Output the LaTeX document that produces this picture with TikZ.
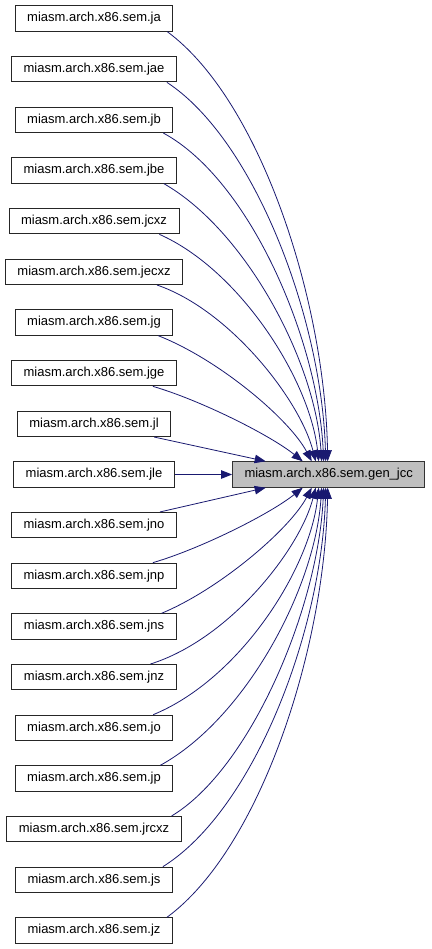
\documentclass[tikz,border=0pt]{standalone}
\usepackage{fontspec}
\setmainfont{Liberation Sans}
\usetikzlibrary{arrows.meta}
\definecolor{edgeblue}{HTML}{191970}
\definecolor{tgtfill}{HTML}{BFBFBF}
\tikzset{
  src/.style={draw=black!85, line width=0.9pt, fill=white, minimum height=25.5pt, inner ysep=0pt, inner xsep=12pt, font=\fontsize{13}{15}\selectfont},
  tgt/.style={src, fill=tgtfill, draw=black!80},
  edge/.style={draw=edgeblue, line width=0.8pt, -{Triangle[length=11pt,width=8.5pt]}},
}
\begin{document}
\begin{tikzpicture}[x=1pt,y=-1pt]
\useasboundingbox (0,0) rectangle (431,949);
\node[tgt] (gen) at (328.7,474.5) {miasm.arch.x86.sem.gen\_jcc};
\foreach \nm [count=\i from 0] in {ja,jae,jb,jbe,jcxz,jecxz,jg,jge,jl,jle,jno,jnp,jns,jnz,jo,jp,jrcxz,js,jz}{
  \node[src] (\nm) at (94,{474.5+50.67*(\i-9)}) {miasm.arch.x86.sem.\nm};
}
% upper edges
\draw[edge] ([xshift=-6pt]ja.south east) .. controls (260,100) and (325,300) .. ([xshift=-1pt]gen.north);
\draw[edge] ([xshift=-10pt]jae.south east) .. controls (255,140) and (322,320) .. ([xshift=-3pt]gen.north);
\draw[edge] ([xshift=-10pt]jb.south east) .. controls (250,180) and (318,340) .. ([xshift=-5pt]gen.north);
\draw[edge] ([xshift=-13pt]jbe.south east) .. controls (245,230) and (315,360) .. ([xshift=-7pt]gen.north);
\draw[edge] ([xshift=-20pt]jcxz.south east) .. controls (240,270) and (310,380) .. ([xshift=-10pt]gen.north);
\draw[edge] ([xshift=-26pt]jecxz.south east) .. controls (230,310) and (300,400) .. ([xshift=-13pt]gen.north);
\draw[edge] ([xshift=-15pt]jg.south east) .. controls (220,360) and (290,420) .. ([xshift=-17pt]gen.north);
\draw[edge] ([xshift=-24pt]jge.south east) .. controls (200,400) and (270,435) .. ([xshift=-26pt]gen.north);
\draw[edge] ([xshift=-17pt]jl.south east) -- ([xshift=-63pt]gen.north);
\draw[edge] (jle.east) -- (gen.west);
% lower edges (mirror)
\draw[edge] ([xshift=-17pt]jno.north east) -- ([xshift=-63pt]gen.south);
\draw[edge] ([xshift=-24pt]jnp.north east) .. controls (200,549) and (270,514) .. ([xshift=-26pt]gen.south);
\draw[edge] ([xshift=-15pt]jns.north east) .. controls (220,589) and (290,529) .. ([xshift=-17pt]gen.south);
\draw[edge] ([xshift=-26pt]jnz.north east) .. controls (230,639) and (300,549) .. ([xshift=-13pt]gen.south);
\draw[edge] ([xshift=-20pt]jo.north east) .. controls (240,679) and (310,569) .. ([xshift=-10pt]gen.south);
\draw[edge] ([xshift=-13pt]jp.north east) .. controls (245,719) and (315,589) .. ([xshift=-7pt]gen.south);
\draw[edge] ([xshift=-10pt]jrcxz.north east) .. controls (250,769) and (318,609) .. ([xshift=-5pt]gen.south);
\draw[edge] ([xshift=-10pt]js.north east) .. controls (255,809) and (322,629) .. ([xshift=-3pt]gen.south);
\draw[edge] ([xshift=-6pt]jz.north east) .. controls (260,849) and (325,649) .. ([xshift=-1pt]gen.south);
\end{tikzpicture}
\end{document}
